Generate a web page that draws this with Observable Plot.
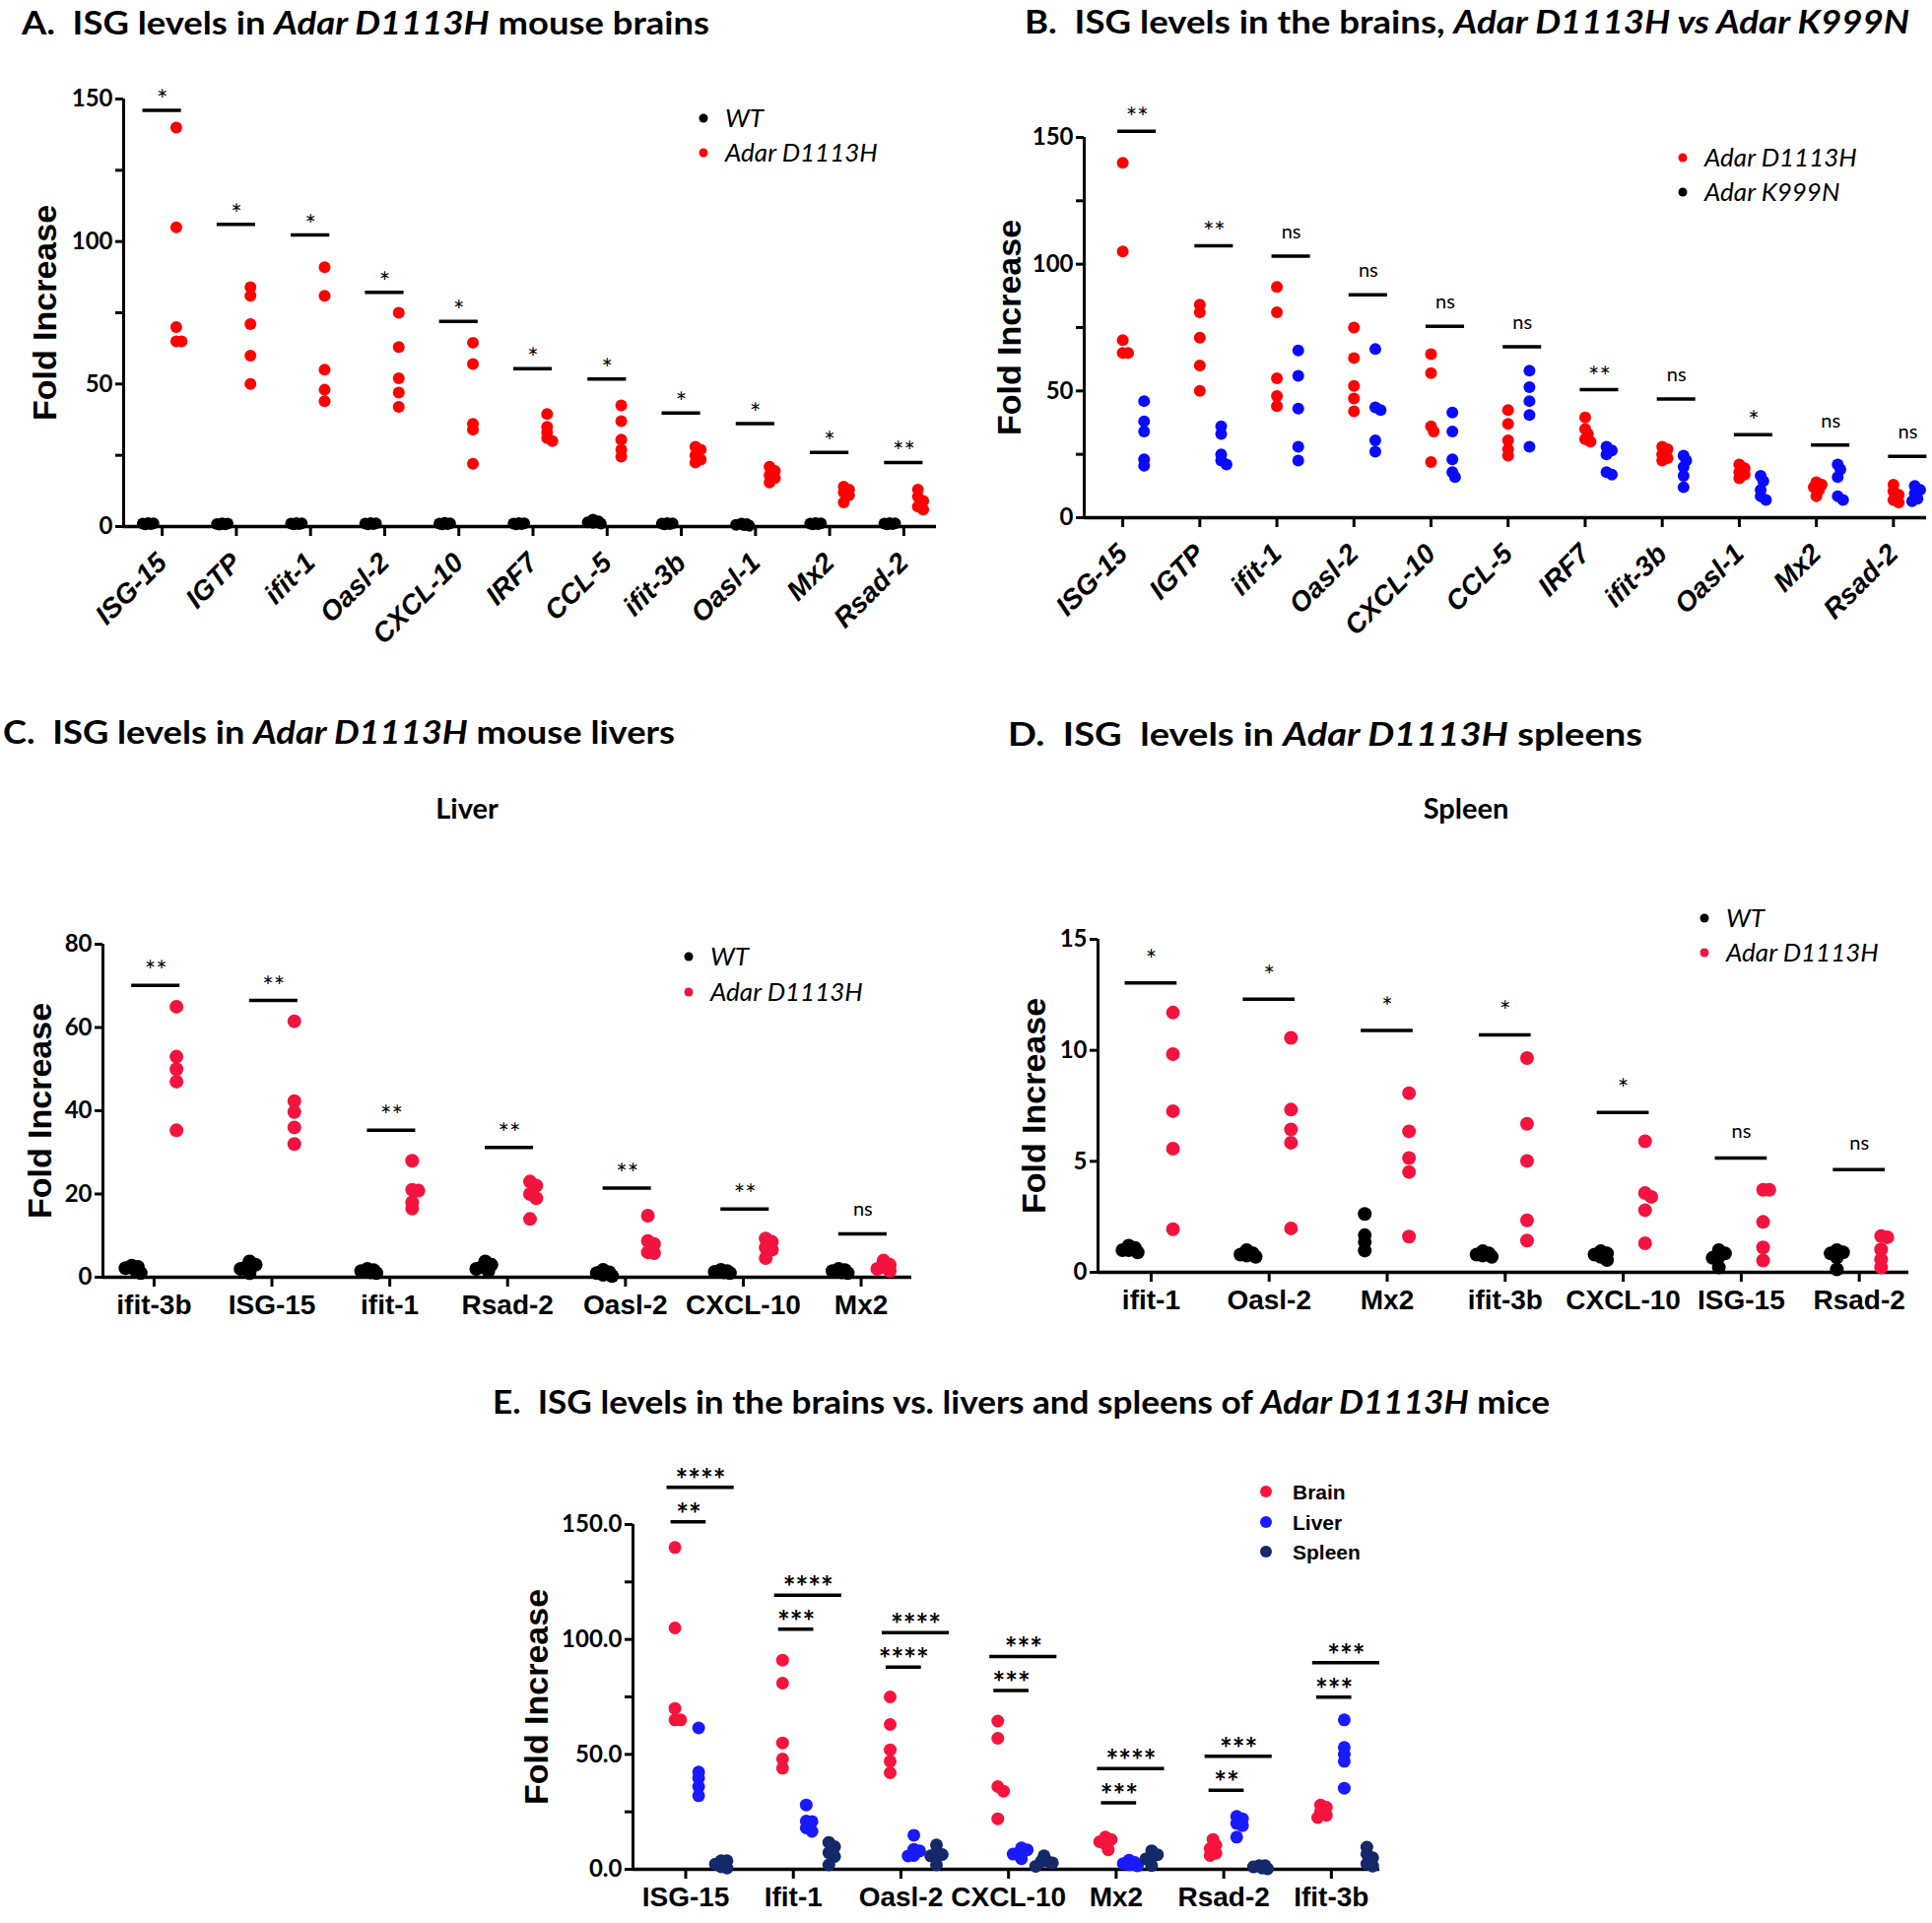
<!DOCTYPE html>
<html><head><meta charset="utf-8">
<script src="https://cdn.jsdelivr.net/npm/d3@7"></script>
<script src="https://cdn.jsdelivr.net/npm/@observablehq/plot@0.6"></script>
<style>
html,body{margin:0;padding:0;background:#fff;}
#page{position:relative;width:1961px;height:1952px;overflow:hidden;background:#fff;}
.panel{position:absolute;}
.panel svg{overflow:visible;}
.panel [aria-label="y-axis tick label"]{font-family:Lato,sans-serif;font-weight:700;font-size:24px;}
.panel [aria-label="x-axis tick label"]{font-family:"Liberation Sans",Arial,sans-serif;font-weight:700;font-size:28px;}
.rot [aria-label="x-axis tick label"]{font-style:italic;font-size:28px;}
.panel [aria-label="y-axis label"]{font-family:"Liberation Sans",Arial,sans-serif;font-weight:700;font-size:34px;}
</style></head>
<body><div id="page"></div>
<script>
// ---------------- DATA ----------------
// Panel A / B : brains
const catsA = ["ISG-15","IGTP","ifit-1","Oasl-2","CXCL-10","IRF7","CCL-5","ifit-3b","Oasl-1","Mx2","Rsad-2"];
const brainWT = [
  [0.9,1.1,1.0,0.8,1.2],[0.7,0.9,1.0,0.8,1.1],[0.8,1.0,1.2,0.9,1.1],[0.9,1.1,1.0,0.8,1.2],
  [1.0,1.3,0.8,1.1,0.9],[0.8,1.0,0.9,1.1,1.2],[2.4,1.8,1.3,1.0,1.5],[0.9,1.1,1.0,0.8,1.2],
  [0.3,0.6,0.9,1.0,0.5],[0.8,1.0,0.9,1.1,1.2],[0.9,1.1,1.0,0.8,1.2]
];
const brainD1113H = [
  [140,105,70,65,65],[84,81,71,60,50],[91,81,55,48,44],[75,63,52,47,42],
  [64.5,57,36,34,22],[39.5,35,33,31,30],[42.5,37,30.5,27,24.5],[28,27,25,23.5,22.5],
  [21,19.5,18,17,15.5],[14,13,12,11,8.5],[13,10.5,9,7,6]
];
const sigA = [146,106,102.3,82.2,72,55.4,51.8,39.8,36.1,26,22.5];
const sigALabels = ["*","*","*","*","*","*","*","*","*","*","**"];

const catsB = ["ISG-15","IGTP","ifit-1","Oasl-2","CXCL-10","CCL-5","IRF7","ifit-3b","Oasl-1","Mx2","Rsad-2"];
const brainK999N = [
  [46,38,34,23,20.5],[36,33,25,22.5,21],[66,56,43,28,22.5],[66.5,43.5,42.5,30.5,26],
  [41.5,34,23,18,16],[58,51.5,46,40.5,28],[28,26.5,25,18,17],[24.5,22.5,20,16.5,12],
  [16.5,14.5,11,8.5,7],[21,19,16,8.5,7],[12.5,11,9.5,7.5,6.5]
];
const sigB = [152.4,107.3,103.2,87.9,75.5,67.4,50.5,46.8,32.7,28.7,24.2];
const sigBLabels = ["**","**","ns","ns","ns","ns","**","ns","*","ns","ns"];

// Panel C : livers
const catsC = ["ifit-3b","ISG-15","ifit-1","Rsad-2","Oasl-2","CXCL-10","Mx2"];
const liverWT = [
  [2.8,2.5,2.2,1.8,1.0],[3.8,3.0,2.5,2.0,1.0],[2.0,1.7,1.5,1.2,1.0],[3.8,3.0,2.5,2.0,1.5],
  [1.8,1.2,1.0,0.6,0.3],[1.8,1.5,1.3,1.2,1.0],[2.0,1.7,1.5,1.2,1.0]
];
const liverD1113H = [
  [65,53,50,47,35.3],[61.5,42.3,39.7,36,32],[28,21,20.8,18,16.5],[23,22,20,19,14],
  [14.8,8.7,8,6,5.8],[9.3,8.5,7.1,6.6,4.6],[4,3,2.5,2,1.5]
];
const sigC = [70.1,66.5,35.3,31.2,21.4,16.4,10.4];
const sigCLabels = ["**","**","**","**","**","**","ns"];

// Panel D : spleens
const catsD = ["ifit-1","Oasl-2","Mx2","ifit-3b","CXCL-10","ISG-15","Rsad-2"];
const spleenWT = [
  [1.2,1.1,1.0,1.0,0.9],[1.0,0.85,0.8,0.75,0.7],[2.63,1.67,1.36,0.98],[0.95,0.85,0.8,0.75,0.7],
  [0.95,0.85,0.8,0.7,0.55],[1.0,0.85,0.7,0.65,0.22],[1.0,0.9,0.85,0.67,0.13]
];
const spleenD1113H = [
  [11.7,9.83,7.26,5.57,1.94],[10.56,7.33,6.44,5.84,1.98],[8.07,6.35,5.15,4.52,1.61],
  [9.65,6.69,5.02,2.34,1.43],[5.9,3.57,3.4,2.8,1.31],[3.72,3.72,2.27,1.12,0.53],[1.63,1.58,1.03,0.58,0.22]
];
const sigD = [13.04,12.3,10.9,10.7,7.2,5.15,4.63];
const sigDLabels = ["*","*","*","*","*","ns","ns"];

// Panel E : brain vs liver vs spleen (Adar D1113H)
const catsE = ["ISG-15","Ifit-1","Oasl-2","CXCL-10","Mx2","Rsad-2","Ifit-3b"];
const sigEUpper = [166.2,119.3,103,92.6,43.8,49.2,89.9];
const sigEUpperLabels = ["****","****","****","***","****","***","***"];
const sigELower = [151.2,104.5,88,77.8,28.9,34.4,74.9];
const sigELowerLabels = ["**","***","****","***","***","**","***"];

// Text
const titleA = [["A.  ISG levels in ",0],["Adar D1113H",1],[" mouse brains",0]];
const titleB = [["B.  ISG levels in the brains, ",0],["Adar D1113H vs Adar K999N",1]];
const titleC = [["C.  ISG levels in ",0],["Adar D1113H",1],[" mouse livers",0]];
const titleD = [["D.  ISG  levels in ",0],["Adar D1113H",1],[" spleens",0]];
const titleE = [["E.  ISG levels in the brains vs. livers and spleens of ",0],["Adar D1113H",1],[" mice",0]];
const legendWT = ["WT","Adar D1113H"];
const legendB = ["Adar D1113H","Adar K999N"];
const legendE = ["Brain","Liver","Spleen"];

// ---------------- HELPERS ----------------
const RED = "#ff0000", BLUE = "#0a0aff", CRIMSON = "#f2143f", NAVY = "#14286a";
const lookup = (cats, arr, name) => arr[cats.findIndex(c => c.toLowerCase() === name.toLowerCase())];

function swarm(vals, ky, r) {
  const order = vals.map((_, i) => i).sort((a, b) => vals[b] - vals[a]);
  const placed = [], off = vals.map(() => 0);
  const cands = [0, 0.45, -0.45, 0.9, -0.9, 1.3, -1.3].map(c => c * r);
  for (const i of order) {
    const y = vals[i] * ky;
    let best = 0, bestD = -1;
    for (const c of cands) {
      const d = placed.length ? Math.min(...placed.map(p => Math.hypot(p[0] - c, p[1] - y))) : Infinity;
      if (d >= 0.9 * r) { best = c; bestD = d; break; }
      if (d > bestD) { bestD = d; best = c; }
    }
    off[i] = best; placed.push([best, y]);
  }
  return off;
}

function makePanel(cfg) {
  const {cls, left, top, width, height, mL, mR, mT, mB, cats, xDomain, yMax, yTicks, yMinor, yFmt,
         groups, sigs, rotate, labelOffset, r, starDy, nsDy, starWeight, starSize} = cfg;
  const ky = (height - mT - mB) / yMax;
  const kx = (width - mL - mR) / (xDomain[1] - xDomain[0]);
  const idx = d3.range(cats.length);
  const dotMarks = groups.map(g => {
    const pts = [];
    idx.forEach(i => {
      const vals = g.values[i];
      const off = swarm(vals, ky, r);
      vals.forEach((v, j) => pts.push({x: i + g.base + off[j] / kx, v}));
    });
    return Plot.dot(pts, {x: "x", y: "v", r, fill: g.color, stroke: "none"});
  });
  const sigData = sigs.flatMap(s => idx.map(i => ({i, v: s.vals[i], label: s.labels[i], x1: s.x1, x2: s.x2})));
  const cx = d => d.i + (d.x1 + d.x2) / 2;
  const plot = Plot.plot({
    width, height, marginLeft: mL, marginRight: mR, marginTop: mT, marginBottom: mB,
    x: {type: "linear", domain: xDomain},
    y: {type: "linear", domain: [0, yMax]},
    style: {background: "transparent", overflow: "visible", fontFamily: "Lato", color: "#000"},
    marks: [
      Plot.axisY({ticks: yTicks, tickSize: 8, strokeWidth: 3, tickPadding: 3, tickFormat: yFmt,
        label: "Fold Increase", labelAnchor: "center", labelArrow: "none", labelOffset}),
      Plot.axisY({ticks: yMinor, tickSize: 8, strokeWidth: 3, tickFormat: () => "", label: null}),
      Plot.axisX({ticks: idx, tickFormat: i => cats[i], tickSize: 10, strokeWidth: 3,
        tickPadding: rotate ? 22 : 8, tickRotate: rotate ? -45 : 0, label: null}),
      Plot.ruleX([xDomain[0]], {y1: 0, y2: yMax, strokeWidth: 3}),
      Plot.ruleY([0], {strokeWidth: 3.5}),
      ...dotMarks,
      Plot.ruleY(sigData, {x1: d => d.i + d.x1, x2: d => d.i + d.x2, y: "v", strokeWidth: 3.5}),
      Plot.text(sigData.filter(d => d.label !== "ns"), {x: cx, y: "v", text: "label", lineAnchor: "bottom",
        dy: starDy, fontSize: starSize, fontWeight: starWeight, fontFamily: "Lato"}),
      Plot.text(sigData.filter(d => d.label === "ns"), {x: cx, y: "v", text: "label", lineAnchor: "bottom",
        dy: nsDy, fontSize: 20, fontFamily: "Lato"})
    ]
  });
  const div = document.createElement("div");
  div.className = "panel " + cls;
  div.style.left = left + "px"; div.style.top = top + "px";
  div.appendChild(plot);
  document.getElementById("page").appendChild(div);
}

// ---------------- PANELS ----------------
makePanel({cls: "rot", left: 0, top: 50, width: 975, height: 620, mL: 125, mR: 25, mT: 50, mB: 136,
  cats: catsA, xDomain: [-0.52, 10.44], yMax: 150, yTicks: [0, 50, 100, 150], yMinor: [25, 75, 125],
  yFmt: d3.format("d"), rotate: true, labelOffset: 93, r: 6, starDy: -1, nsDy: -17, starWeight: 400, starSize: 27,
  groups: [{values: brainWT, color: "#000", base: -0.19}, {values: brainD1113H, color: RED, base: 0.19}],
  sigs: [{vals: sigA, labels: sigALabels, x1: -0.26, x2: 0.26}]});

const brainD1113HinB = catsB.map(c => lookup(catsA, brainD1113H, c));
makePanel({cls: "rot", left: 990, top: 50, width: 971, height: 620, mL: 110, mR: 6, mT: 89, mB: 145,
  cats: catsB, xDomain: [-0.5, 10.43], yMax: 150, yTicks: [0, 50, 100, 150], yMinor: [25, 75, 125],
  yFmt: d3.format("d"), rotate: true, labelOffset: 89, r: 6, starDy: -4, nsDy: -18, starWeight: 400, starSize: 27,
  groups: [{values: brainD1113HinB, color: RED, base: 0}, {values: brainK999N, color: BLUE, base: 0.277}],
  sigs: [{vals: sigB, labels: sigBLabels, x1: -0.064, x2: 0.435}]});

makePanel({cls: "", left: 0, top: 880, width: 975, height: 480, mL: 104, mR: 50, mT: 78, mB: 64,
  cats: catsC, xDomain: [-0.434, 6.43], yMax: 80, yTicks: [0, 20, 40, 60, 80], yMinor: [],
  yFmt: d3.format("d"), rotate: false, labelOffset: 77, r: 7, starDy: -5, nsDy: -19, starWeight: 400, starSize: 27,
  groups: [{values: liverWT, color: "#000", base: -0.19}, {values: liverD1113H, color: CRIMSON, base: 0.19}],
  sigs: [{vals: sigC, labels: sigCLabels, x1: -0.19, x2: 0.22}]});

makePanel({cls: "", left: 990, top: 880, width: 971, height: 480, mL: 124, mR: 24, mT: 73, mB: 69,
  cats: catsD, xDomain: [-0.45, 6.42], yMax: 15, yTicks: [0, 5, 10, 15], yMinor: [],
  yFmt: d3.format("d"), rotate: false, labelOffset: 78, r: 7, starDy: -14, nsDy: -20, starWeight: 400, starSize: 27,
  groups: [{values: spleenWT, color: "#000", base: -0.19}, {values: spleenD1113H, color: CRIMSON, base: 0.185}],
  sigs: [{vals: sigD, labels: sigDLabels, x1: -0.22, x2: 0.22}]});

const brainE = catsE.map(c => lookup(catsA, brainD1113H, c));
const liverE = catsE.map(c => lookup(catsC, liverD1113H, c));
const spleenE = catsE.map(c => lookup(catsD, spleenD1113H, c));
makePanel({cls: "", left: 500, top: 1450, width: 1000, height: 502, mL: 142, mR: 100, mT: 97, mB: 55,
  cats: catsE, xDomain: [-0.49, 6.45], yMax: 150, yTicks: [0, 50, 100, 150], yMinor: [25, 75, 125],
  yFmt: d3.format(".1f"), rotate: false, labelOffset: 111, r: 6.5, starDy: 3, nsDy: -18, starWeight: 700, starSize: 30,
  groups: [{values: brainE, color: "#f5143c", base: -0.1}, {values: liverE, color: "#1a1aff", base: 0.12},
           {values: spleenE, color: NAVY, base: 0.33}],
  sigs: [{vals: sigEUpper, labels: sigEUpperLabels, x1: -0.174, x2: 0.45},
         {vals: sigELower, labels: sigELowerLabels, x1: -0.137, x2: 0.19}]});

// ---------------- TITLES & LEGENDS ----------------
const ov = d3.select("#page").append("svg")
  .attr("width", 1961).attr("height", 1952)
  .style("position", "absolute").style("left", 0).style("top", 0).style("pointer-events", "none");

function title(parts, x, y, w, size) {
  const t = ov.append("text").attr("x", x).attr("y", y)
    .attr("font-family", "Lato").attr("font-weight", 700).attr("font-size", size)
    .style("white-space", "pre").attr("textLength", w).attr("lengthAdjust", "spacingAndGlyphs");
  parts.forEach(([s, it]) => t.append("tspan").attr("font-style", it ? "italic" : "normal").text(s));
}
title(titleA, 22, 35, 698, 32);
title(titleB, 1040, 34, 898, 32);
title(titleC, 3, 755, 682, 32);
title(titleD, 1023, 757, 644, 32);
title(titleE, 500, 1435, 1073, 32);

ov.append("text").attr("x", 474).attr("y", 831).attr("text-anchor", "middle")
  .attr("font-family", "Lato").attr("font-weight", 700).attr("font-size", 29).text("Liver");
ov.append("text").attr("x", 1488).attr("y", 831).attr("text-anchor", "middle")
  .attr("font-family", "Lato").attr("font-weight", 700).attr("font-size", 29).text("Spleen");

function legend(labels, colors, dotX, textX, ys, size, opts) {
  labels.forEach((s, i) => {
    ov.append("circle").attr("cx", dotX).attr("cy", ys[i]).attr("r", opts.r).attr("fill", colors[i]);
    ov.append("text").attr("x", textX).attr("y", ys[i] + opts.base)
      .attr("font-family", opts.family).attr("font-weight", opts.weight)
      .attr("font-style", opts.style).attr("font-size", size).text(s);
  });
}
const itOpts = {r: 4.5, base: 9, family: "Lato", weight: 400, style: "italic"};
legend(legendWT, ["#000", RED], 714, 736, [120, 155], 26, itOpts);
legend(legendB, [RED, "#000"], 1708, 1730, [160, 195], 26, itOpts);
legend(legendWT, ["#000", CRIMSON], 699, 721, [971, 1007], 26, itOpts);
legend(legendWT, ["#000", CRIMSON], 1730, 1752, [932, 967], 26, itOpts);
legend(legendE, ["#f5143c", "#1a1aff", NAVY], 1285, 1312, [1514, 1545, 1575], 21,
  {r: 6, base: 8, family: "Liberation Sans", weight: 700, style: "normal"});
</script></body></html>
